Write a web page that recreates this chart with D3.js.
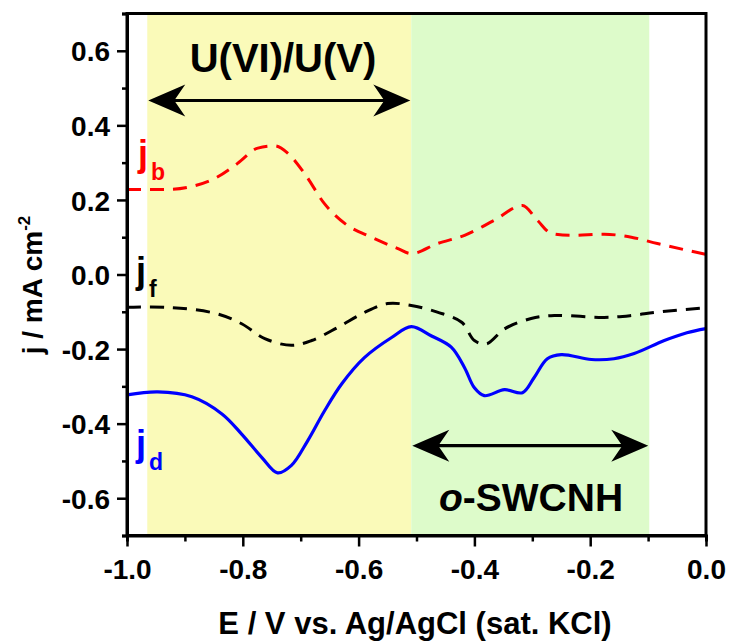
<!DOCTYPE html>
<html><head><meta charset="utf-8">
<script src="https://cdn.jsdelivr.net/npm/d3@7"></script>
<style>html,body{margin:0;padding:0;background:#fff;}svg{display:block;}text{font-family:"Liberation Sans",Arial,sans-serif;}</style>
</head><body>
<svg id="c" width="730" height="644"></svg>
<script>
// Data
const E_b = [-1.0, -0.93, -0.888, -0.848, -0.809, -0.774, -0.745, -0.722, -0.693, -0.659, -0.624, -0.578, -0.533, -0.509, -0.464, -0.417, -0.366, -0.317, -0.291, -0.267, -0.233, -0.176, -0.129, -0.084, 0.0];
const j_b = [0.228, 0.228, 0.236, 0.258, 0.298, 0.339, 0.345, 0.325, 0.27, 0.19, 0.137, 0.10, 0.07, 0.056, 0.083, 0.105, 0.145, 0.185, 0.145, 0.11, 0.105, 0.108, 0.10, 0.083, 0.054];
const E_f = [-1.0, -0.93, -0.848, -0.802, -0.762, -0.716, -0.681, -0.636, -0.590, -0.55, -0.509, -0.464, -0.422, -0.4, -0.379, -0.348, -0.302, -0.262, -0.176, -0.129, -0.084, 0.0];
const j_f = [-0.088, -0.088, -0.104, -0.132, -0.172, -0.19, -0.177, -0.142, -0.102, -0.078, -0.083, -0.101, -0.128, -0.177, -0.186, -0.146, -0.118, -0.110, -0.115, -0.11, -0.101, -0.089];
const E_d = [-1.0, -0.947, -0.888, -0.836, -0.802, -0.767, -0.74, -0.716, -0.688, -0.659, -0.629, -0.590, -0.543, -0.509, -0.474, -0.44, -0.417, -0.4, -0.383, -0.348, -0.317, -0.297, -0.274, -0.25, -0.198, -0.159, -0.124, -0.072, -0.033, 0.0];
const j_d = [-0.323, -0.315, -0.328, -0.374, -0.428, -0.491, -0.532, -0.512, -0.446, -0.366, -0.293, -0.223, -0.169, -0.140, -0.165, -0.195, -0.25, -0.304, -0.325, -0.309, -0.317, -0.277, -0.226, -0.215, -0.228, -0.226, -0.212, -0.177, -0.156, -0.145];
const regionU = [-0.965, -0.509];
const regionS = [-0.509, -0.098];
const xTicks = [-1.0, -0.8, -0.6, -0.4, -0.2, 0.0];
const yTicks = [-0.6, -0.4, -0.2, 0.0, 0.2, 0.4, 0.6];

const svg = d3.select("#c");
const x = d3.scaleLinear().domain([-1, 0]).range([127, 706]);
const y = d3.scaleLinear().domain([-0.7, 0.7]).range([535.5, 13.5]);
const fmt = d => d.toFixed(1);

// shaded regions
svg.append("rect").attr("x", x(regionU[0])).attr("y", y(0.7)).attr("width", x(regionU[1]) - x(regionU[0])).attr("height", y(-0.7) - y(0.7)).attr("fill", "#fafab9");
svg.append("rect").attr("x", x(regionS[0])).attr("y", y(0.7)).attr("width", x(regionS[1]) - x(regionS[0])).attr("height", y(-0.7) - y(0.7)).attr("fill", "#ddfbca");

const zip = (a, b) => a.map((v, i) => [v, b[i]]);
const lineR = d3.line().x(d => x(d[0])).y(d => y(d[1])).curve(d3.curveMonotoneX);
const lineS = d3.line().x(d => x(d[0])).y(d => y(d[1])).curve(d3.curveCatmullRom.alpha(0.5));
svg.append("path").attr("d", lineR(zip(E_b, j_b))).attr("fill", "none").attr("stroke", "#ff0000").attr("stroke-width", 3).attr("stroke-dasharray", "14,9");
svg.append("path").attr("d", lineS(zip(E_f, j_f))).attr("fill", "none").attr("stroke", "#000").attr("stroke-width", 3).attr("stroke-dasharray", "14,9");
svg.append("path").attr("d", lineS(zip(E_d, j_d))).attr("fill", "none").attr("stroke", "#0000ff").attr("stroke-width", 3.2);

// arrows
function arrowHead(tipX, yy, dir) {
  const L = 37, H = 16, N = 11;
  const p = [[tipX, yy], [tipX - dir * L, yy - H], [tipX - dir * (L - N), yy], [tipX - dir * L, yy + H]];
  svg.append("path").attr("d", "M" + p.map(q => q.join(",")).join("L") + "Z").attr("fill", "#000");
}
function dblArrow(v0, v1, yy) {
  const a = x(v0) + 1, b = x(v1) - 1;
  svg.append("line").attr("x1", a + 20).attr("x2", b - 20).attr("y1", yy).attr("y2", yy).attr("stroke", "#000").attr("stroke-width", 3.2);
  arrowHead(a, yy, -1);
  arrowHead(b, yy, 1);
}
dblArrow(regionU[0], regionU[1], 100.5);
dblArrow(regionS[0], regionS[1], 445.7);

svg.append("text").attr("x", 283).attr("y", 72).attr("text-anchor", "middle").attr("font-size", 40).attr("font-weight", "bold").text("U(VI)/U(V)");
const t2 = svg.append("text").attr("x", 531).attr("y", 511).attr("text-anchor", "middle").attr("font-size", 39).attr("font-weight", "bold");
t2.append("tspan").attr("font-style", "italic").text("o");
t2.append("tspan").text("-SWCNH");

// curve labels
function jlabel(xx, yy, sub, col) {
  const t = svg.append("text").attr("x", xx).attr("y", yy).attr("fill", col).attr("font-weight", "bold").attr("font-size", 36);
  t.append("tspan").text("j");
  t.append("tspan").attr("font-size", 23).attr("dy", 14).attr("dx", 3).text(sub);
}
jlabel(138, 166, "b", "#ff0000");
jlabel(136, 283, "f", "#000");
jlabel(136, 456, "d", "#0000ff");

// axes
const gx = svg.append("g").attr("transform", `translate(0,${y(-0.7)})`)
  .call(d3.axisBottom(x).tickValues(d3.range(-1, 0.001, 0.1)).tickSize(6).tickFormat(""));
gx.selectAll(".tick line").attr("stroke-width", 2.5).attr("y2", (d, i) => i % 2 === 0 ? 11 : 6);
const gx2 = svg.append("g").attr("transform", `translate(0,${y(-0.7)})`)
  .call(d3.axisBottom(x).tickValues(xTicks).tickSize(0).tickPadding(24).tickFormat(fmt));
gx2.selectAll("text").attr("font-size", 28).attr("font-weight", "bold").attr("fill", "#000").attr("font-family", "Liberation Sans, Arial, sans-serif");
gx2.select(".domain").remove();

const gy = svg.append("g").attr("transform", `translate(${x(-1)},0)`)
  .call(d3.axisLeft(y).tickValues(d3.range(-7, 8).map(v => v / 10)).tickSize(5).tickFormat(""));
gy.selectAll(".tick line").attr("stroke-width", 2.5).attr("x2", (d, i) => i % 2 === 1 ? -10 : -5);
const gy2 = svg.append("g").attr("transform", `translate(${x(-1)},0)`)
  .call(d3.axisLeft(y).tickValues(yTicks).tickSize(0).tickPadding(17).tickFormat(fmt));
gy2.selectAll("text").attr("font-size", 28).attr("font-weight", "bold").attr("fill", "#000").attr("font-family", "Liberation Sans, Arial, sans-serif").attr("dy", "0.36em");
gy2.select(".domain").remove();
svg.selectAll(".domain").attr("stroke-width", 3);

// frame
svg.append("rect").attr("x", x(-1)).attr("y", y(0.7)).attr("width", x(0) - x(-1)).attr("height", y(-0.7) - y(0.7)).attr("fill", "none").attr("stroke", "#000").attr("stroke-width", 3);

// axis titles
svg.append("text").attr("x", 415).attr("y", 634).attr("text-anchor", "middle").attr("font-size", 31).attr("font-weight", "bold").text("E / V vs. Ag/AgCl (sat. KCl)");
const yl = svg.append("text").attr("transform", "translate(42,285) rotate(-90)").attr("text-anchor", "middle").attr("font-size", 28).attr("font-weight", "bold");
yl.append("tspan").text("j / mA cm");
yl.append("tspan").attr("font-size", 17).attr("dy", -12).text("-2");
</script>
</body></html>
